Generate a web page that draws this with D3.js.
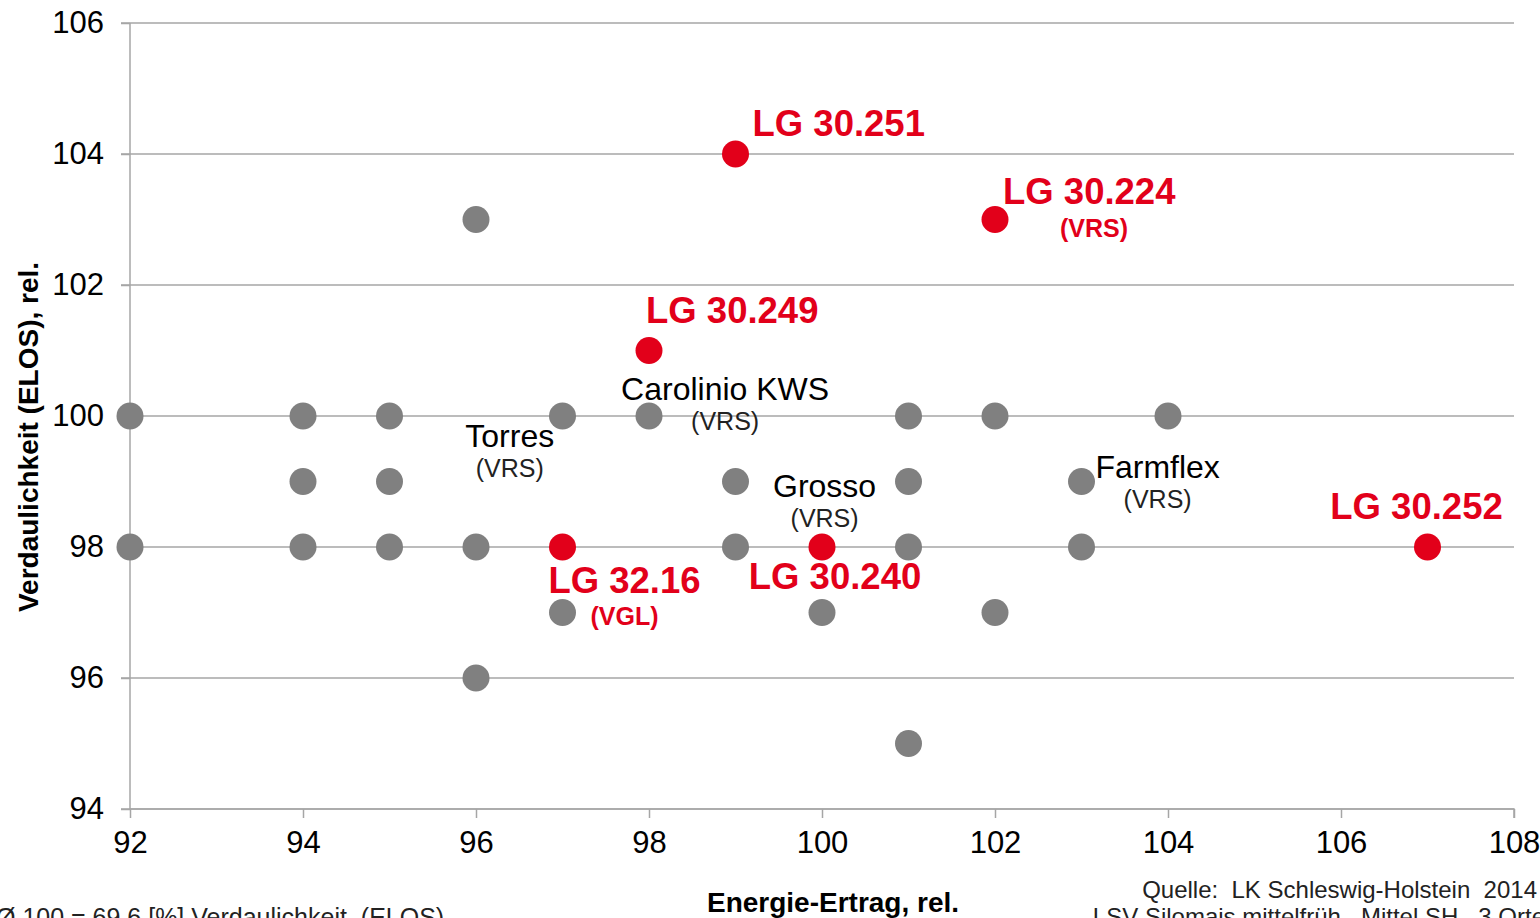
<!DOCTYPE html>
<html>
<head>
<meta charset="utf-8">
<script src="https://cdn.jsdelivr.net/npm/d3@7"></script>
<style>
  body { margin: 0; background: #fff; }
  svg { display: block; font-family: "Liberation Sans", Arial, sans-serif; }
</style>
</head>
<body>
<div id="chart"></div>
<script>
// grey dots: other varieties
const greyX = [92, 92, 94, 94, 94, 95, 95, 95, 96, 96, 96, 97, 97, 98, 99, 99, 100, 101, 101, 101, 101, 102, 102, 103, 103, 104];
const greyY = [100, 98, 100, 99, 98, 100, 99, 98, 103, 98, 96, 100, 97, 100, 99, 98, 97, 100, 99, 98, 95, 100, 97, 99, 98, 100];

// red dots: LG varieties
const redNames = ["LG 30.251", "LG 30.224", "LG 30.249", "LG 32.16", "LG 30.240", "LG 30.252"];
const redX = [99, 102, 98, 97, 100, 107];
const redY = [104, 103, 101, 98, 98, 98];
const redNotes = ["", "(VRS)", "", "(VGL)", "", ""];

// black labels for reference varieties
const refNames = ["Carolinio KWS", "Torres", "Grosso", "Farmflex"];
const refNotes = ["(VRS)", "(VRS)", "(VRS)", "(VRS)"];

const xTicks = [92, 94, 96, 98, 100, 102, 104, 106, 108];
const yTicks = [94, 96, 98, 100, 102, 104, 106];

const W = 1540, H = 918;
const m = {left: 130, right: 26, top: 23, bottom: 109};

const svg = d3.select("#chart").append("svg")
  .attr("width", W).attr("height", H);

const x = d3.scaleLinear().domain([92, 108]).range([m.left, W - m.right]);
const y = d3.scaleLinear().domain([94, 106]).range([H - m.bottom, m.top]);

const grey = "#808080", red = "#e2001a", gridCol = "#a6a6a6";
const font = "Liberation Sans, Arial, sans-serif";

// gridlines
svg.append("g")
  .selectAll("line")
  .data(yTicks)
  .join("line")
  .attr("x1", m.left - 9).attr("x2", W - m.right)
  .attr("y1", d => y(d)).attr("y2", d => y(d))
  .attr("stroke", gridCol).attr("stroke-width", 1.5);

// y axis
const yAxis = svg.append("g")
  .attr("transform", `translate(${m.left},0)`)
  .call(d3.axisLeft(y).tickValues(yTicks).tickSize(9).tickPadding(17).tickFormat(d3.format("d")));
yAxis.selectAll("line").attr("stroke", gridCol).attr("stroke-width", 1.5);
yAxis.select(".domain").attr("stroke", gridCol).attr("stroke-width", 1.5).attr("d", `M0,${y(94)}V${y(106)}`);
yAxis.selectAll("text").attr("font-size", 31).attr("fill", "#000").attr("font-family", font);

// x axis
const xAxis = svg.append("g")
  .attr("transform", `translate(0,${y(94)})`)
  .call(d3.axisBottom(x).tickValues(xTicks).tickSize(9).tickPadding(13).tickFormat(d3.format("d")));
xAxis.selectAll("line").attr("stroke", gridCol).attr("stroke-width", 1.5);
xAxis.select(".domain").attr("stroke", gridCol).attr("stroke-width", 1.5).attr("d", `M${x(92)},0H${x(108)}V9`);
xAxis.selectAll("text").attr("font-size", 31).attr("fill", "#000").attr("font-family", font);

// dots
svg.append("g")
  .selectAll("circle")
  .data(greyX.map((d, i) => [d, greyY[i]]))
  .join("circle")
  .attr("cx", d => x(d[0])).attr("cy", d => y(d[1]))
  .attr("r", 13.5).attr("fill", grey);

svg.append("g")
  .selectAll("circle")
  .data(redX.map((d, i) => [d, redY[i]]))
  .join("circle")
  .attr("cx", d => x(d[0])).attr("cy", d => y(d[1]))
  .attr("r", 13.5).attr("fill", red);

// label placement (pixel offsets relative to the dot)
const redOffsets = [
  {dx: 17, dy: -18, anchor: "start", ndx: 0, ndy: 0},
  {dx: 8, dy: -16, anchor: "start", ndx: 99, ndy: 17},
  {dx: -3, dy: -28, anchor: "start", ndx: 0, ndy: 0},
  {dx: 62, dy: 46, anchor: "middle", ndx: 62, ndy: 78},
  {dx: 13, dy: 42, anchor: "middle", ndx: 0, ndy: 0},
  {dx: -11, dy: -28, anchor: "middle", ndx: 0, ndy: 0}
];
const labels = svg.append("g");
redNames.forEach((name, i) => {
  const o = redOffsets[i];
  const cx = x(redX[i]), cy = y(redY[i]);
  labels.append("text")
    .attr("x", cx + o.dx).attr("y", cy + o.dy)
    .attr("text-anchor", o.anchor)
    .attr("font-size", 36.5).attr("font-weight", "bold").attr("fill", red)
    .text(name);
  if (redNotes[i]) {
    labels.append("text")
      .attr("x", cx + o.ndx).attr("y", cy + o.ndy)
      .attr("text-anchor", "middle")
      .attr("font-size", 25).attr("font-weight", "bold").attr("fill", red)
      .text(redNotes[i]);
  }
});

// reference variety labels, anchored to data coordinates
const refAt = [[98.88, 100.24], [96.39, 99.53], [100.03, 98.77], [103.88, 99.05]];
refNames.forEach((name, i) => {
  const px = x(refAt[i][0]), py = y(refAt[i][1]);
  labels.append("text")
    .attr("x", px).attr("y", py)
    .attr("text-anchor", "middle")
    .attr("font-size", 32).attr("fill", "#000")
    .text(name);
  labels.append("text")
    .attr("x", px).attr("y", py + 30)
    .attr("text-anchor", "middle")
    .attr("font-size", 25).attr("fill", "#222")
    .text(refNotes[i]);
});

// axis titles
svg.append("text")
  .attr("transform", `translate(38,437) rotate(-90)`)
  .attr("text-anchor", "middle")
  .attr("font-size", 28).attr("font-weight", "bold")
  .text("Verdaulichkeit (ELOS), rel.");

svg.append("text")
  .attr("x", 833).attr("y", 912)
  .attr("text-anchor", "middle")
  .attr("font-size", 28).attr("font-weight", "bold")
  .text("Energie-Ertrag, rel.");

// footnotes
svg.append("text")
  .attr("x", -4).attr("y", 926)
  .attr("font-size", 25).attr("fill", "#222")
  .style("white-space", "pre")
  .text("Ø 100 = 69,6 [%] Verdaulichkeit  (ELOS)");

svg.append("text")
  .attr("x", 1537).attr("y", 898)
  .attr("text-anchor", "end")
  .attr("font-size", 24).attr("fill", "#222")
  .style("white-space", "pre")
  .text("Quelle:  LK Schleswig-Holstein  2014");

svg.append("text")
  .attr("x", 1545).attr("y", 925)
  .attr("text-anchor", "end")
  .attr("font-size", 24).attr("fill", "#222")
  .style("white-space", "pre")
  .text("LSV Silomais mittelfrüh,  Mittel SH,  3 Orte");
</script>
</body>
</html>
